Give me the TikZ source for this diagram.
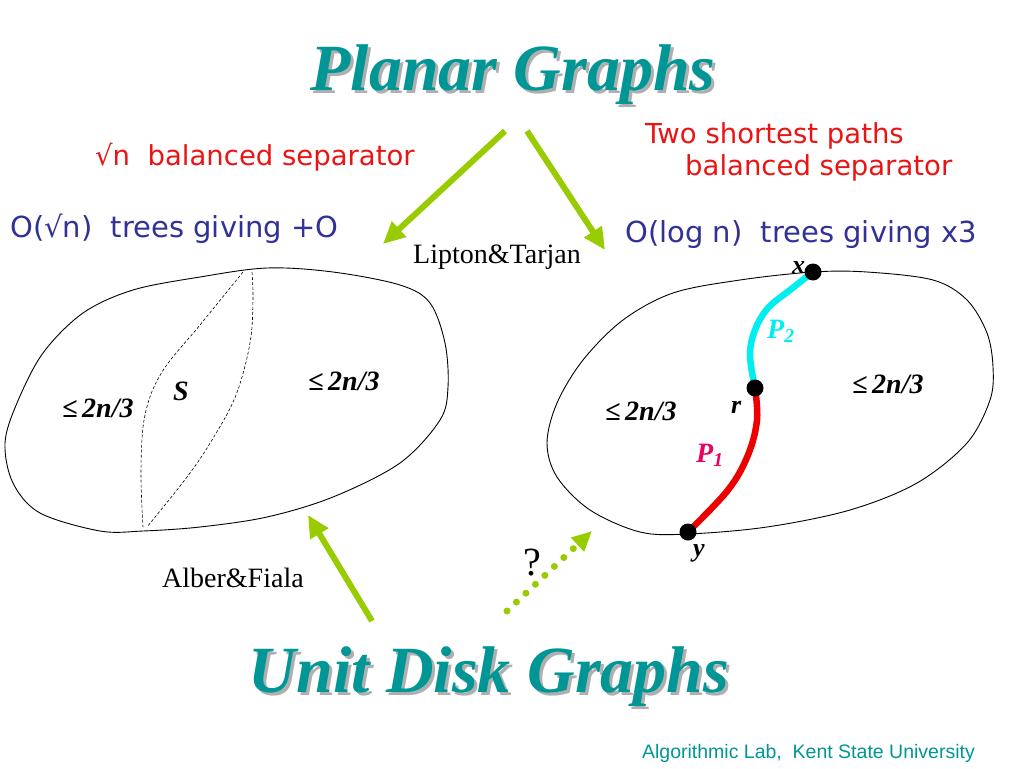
\documentclass[tikz,border=0pt]{standalone}
\usepackage{fontspec}
\setmainfont{Liberation Serif}
\newfontfamily\handfont{DejaVu Sans}
\newfontfamily\labfont{Liberation Sans}
\usetikzlibrary{arrows.meta}
\definecolor{teal1}{RGB}{0,150,150}
\definecolor{shadowgray}{RGB}{175,175,175}
\definecolor{arrowgreen}{RGB}{153,204,0}
\definecolor{handred}{RGB}{235,20,20}
\definecolor{handblue}{RGB}{50,50,150}
\definecolor{pcyan}{RGB}{0,238,238}
\definecolor{pred}{RGB}{238,0,0}
\definecolor{pmag}{RGB}{235,0,100}
\newcommand{\shadowtext}[1]{\rlap{\kern3pt\raisebox{-3pt}{\textcolor{shadowgray}{#1}}}#1}
\tikzset{
  titletext/.style={font=\fontsize{66}{72}\selectfont\bfseries\itshape, text=teal1, inner sep=0pt, anchor=base},
  redhand/.style={font=\handfont\fontsize{27.5}{32}\selectfont, text=handred, inner sep=0pt, anchor=base west},
  bluehand/.style={font=\handfont\fontsize{29}{32}\selectfont, text=handblue, inner sep=0pt, anchor=base west},
  authortext/.style={font=\fontsize{28}{32}\selectfont, inner sep=0pt, anchor=base west},
  mathlabel/.style={font=\fontsize{28}{32}\selectfont\bfseries\itshape, inner sep=0pt, anchor=base west},
  letterlabel/.style={font=\fontsize{26}{30}\selectfont\bfseries\itshape, inner sep=0pt, anchor=base west},
  blob/.style={draw=black, line width=0.9pt},
  sepline/.style={draw=black, dash pattern=on 3pt off 2pt, line width=0.6pt},
  bigarrow/.style={draw=arrowgreen, line width=6pt, -{Triangle[length=22pt,width=20pt]}},
  dotarrow/.style={draw=arrowgreen, line width=7pt, line cap=round, dash pattern=on 0pt off 13pt, -{Triangle[length=20pt,width=18pt]}},
  pathline/.style={line width=6.5pt, line cap=round},
  vertex/.style={circle, fill=black, inner sep=0pt, minimum size=17pt},
}
\begin{document}
\begin{tikzpicture}[x=1pt,y=-1pt]
\useasboundingbox[fill=white] (0,0) rectangle (1024,768);

% titles
\node[titletext] (ptitle) at (513,90) {\shadowtext{Planar Graphs}};
\node[titletext] (utitle) at (489,692) {\shadowtext{Unit Disk Graphs}};

% handwritten notes
\node[redhand] (sepL) at (95,165) {√n\ \ balanced separator};
\node[redhand] (sepR1) at (645,143) {Two shortest paths};
\node[redhand] (sepR2) at (685,175) {balanced separator};
\node[bluehand] (treeL) at (10,237) {O(√n)\ \ trees giving +O};
\node[bluehand] (treeR) at (625,242) {O(log n)\ \ trees giving x3};

\node[authortext] (lt) at (413,263) {Lipton\&Tarjan};
\node[authortext] (af) at (162,587) {Alber\&Fiala};

% left blob
\draw[blob] plot[smooth cycle, tension=0.55] coordinates {
 (133,290) (200,277) (267,268) (333,272) (400,285) (430,303) (445,343) (448,387)
 (440,420) (400,463) (333,497) (267,517) (200,527) (143,531) (100,531) (40,513)
 (13,483) (5,443) (17,403) (43,353) (83,313)};
\draw[sepline] plot[smooth, tension=0.6] coordinates {(243,272) (200,325) (162,372) (145,415) (141,470) (143,527)};
\draw[sepline] plot[smooth, tension=0.6] coordinates {(252,272) (253,300) (250,343) (236,395) (212,440) (187,477) (147,527)};
\node[mathlabel] (l1) at (62,417) {≤\,2n/3};
\node[mathlabel] (sl) at (173,400) {S};
\node[mathlabel] (l2) at (308,390) {≤\,2n/3};

% right blob
\draw[blob] plot[smooth cycle, tension=0.55] coordinates {
 (673,293) (740,280) (813,272) (867,272) (933,280) (967,300) (987,333) (993,367)
 (990,400) (967,443) (917,483) (850,510) (767,527) (688,534) (640,532) (590,510)
 (557,477) (547,443) (557,403) (583,360) (623,320)};
\coordinate (px) at (813,272);
\coordinate (pr) at (755,388);
\coordinate (py) at (688,532);
\draw[pathline, draw=pcyan] plot[smooth, tension=0.6] coordinates {(px) (790,290) (768,308) (755,330) (750,355) (pr)};
\draw[pathline, draw=pred] plot[smooth, tension=0.6] coordinates {(pr) (757,420) (748,455) (728,490) (py)};
\node[vertex] (vx) at (px) {};
\node[vertex] (vr) at (pr) {};
\node[vertex] (vy) at (py) {};
\node[letterlabel] (lx) at (792,273) {x};
\node[letterlabel] (lr) at (731,413) {r};
\node[letterlabel] (ly) at (693,556) {y};
\node[mathlabel, text=pcyan] (p2) at (767,338) {P\textsubscript{2}};
\node[mathlabel, text=pmag] (p1) at (696,462) {P\textsubscript{1}};
\node[mathlabel] (r1) at (605,420) {≤\,2n/3};
\node[mathlabel] (r2) at (852,393) {≤\,2n/3};

% arrows
\coordinate (a1s) at (505,131);
\coordinate (a1e) at (383,244);
\coordinate (a2s) at (527,131);
\coordinate (a2e) at (605,250);
\coordinate (a3s) at (372,621);
\coordinate (a3e) at (308,515);
\coordinate (a4s) at (507,611);
\coordinate (a4e) at (592,531);
\draw[bigarrow] (a1s) -- (a1e);
\draw[bigarrow] (a2s) -- (a2e);
\draw[bigarrow] (a3s) -- (a3e);
\draw[dotarrow] (a4s) -- (a4e);
\node[font=\fontsize{40}{44}\selectfont, inner sep=0pt] (q) at (532,563) {?};

% footer
\node[font=\labfont\fontsize{19.5}{22}\selectfont, text=teal1, inner sep=0pt, anchor=base east] (foot) at (975,758) {Algorithmic Lab,\ \ Kent State University};
\end{tikzpicture}
\end{document}
